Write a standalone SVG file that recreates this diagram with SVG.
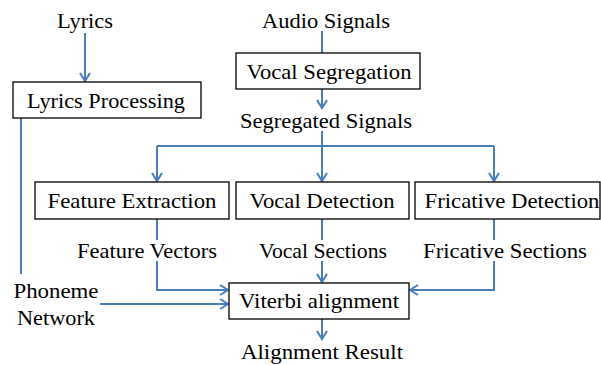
<svg xmlns="http://www.w3.org/2000/svg" width="601" height="365" viewBox="0 0 601 365">
  <defs>
    <marker id="arrow" viewBox="0 0 12 12" refX="10" refY="6" markerWidth="12" markerHeight="12" markerUnits="userSpaceOnUse" orient="auto">
      <polyline points="2,1 10,6 2,11" fill="none" stroke="#4a7ebb" stroke-width="2"/>
    </marker>
  </defs>
  <style>
    .lbl { font-family: 'Liberation Serif', Tinos, 'Times New Roman', 'DejaVu Serif', 'Noto Serif', serif; font-size: 22px; fill: #000; text-anchor: middle; }
    .box { fill: #fff; stroke: #000; stroke-width: 1.3; }
    .wire { fill: none; stroke: #4a7ebb; stroke-width: 2; }
    .arr { marker-end: url(#arrow); }
  </style>
  <rect width="601" height="365" fill="#fff"/>

  <g id="connectors">
    <path class="wire arr" d="M85,33 V81"/>
    <path class="wire" d="M21,118 V274"/>
    <path class="wire" d="M322,31 V53"/>
    <path class="wire arr" d="M322,89 V108"/>
    <path class="wire" d="M157,146 H494"/>
    <path class="wire arr" d="M322,131 V181"/>
    <path class="wire arr" d="M157,146 V181"/>
    <path class="wire arr" d="M494,146 V181"/>
    <path class="wire" d="M157,219 V240"/>
    <path class="wire" d="M322,219 V240"/>
    <path class="wire" d="M494,219 V240"/>
    <path class="wire arr" d="M157,261 V290 H228"/>
    <path class="wire arr" d="M100,304 H228"/>
    <path class="wire arr" d="M322,261 V282"/>
    <path class="wire arr" d="M494,261 V290 H410"/>
    <path class="wire arr" d="M322,319 V339"/>
  </g>

  <g id="lyrics"><text class="lbl" x="85" y="28" textLength="56" lengthAdjust="spacingAndGlyphs">Lyrics</text></g>
  <g id="audio-signals"><text class="lbl" x="326" y="28" textLength="128" lengthAdjust="spacingAndGlyphs">Audio Signals</text></g>

  <g id="lyrics-processing">
    <rect class="box" x="13" y="82" width="188" height="36"/>
    <text class="lbl" x="106" y="108" textLength="158" lengthAdjust="spacingAndGlyphs">Lyrics Processing</text>
  </g>
  <g id="vocal-segregation">
    <rect class="box" x="236" y="53" width="184" height="36"/>
    <text class="lbl" x="329" y="79" textLength="165" lengthAdjust="spacingAndGlyphs">Vocal Segregation</text>
  </g>
  <g id="segregated-signals"><text class="lbl" x="326" y="128" textLength="172" lengthAdjust="spacingAndGlyphs">Segregated Signals</text></g>

  <g id="feature-extraction">
    <rect class="box" x="35" y="182" width="194" height="37"/>
    <text class="lbl" x="132" y="208" textLength="169" lengthAdjust="spacingAndGlyphs">Feature Extraction</text>
  </g>
  <g id="vocal-detection">
    <rect class="box" x="236" y="182" width="173" height="37"/>
    <text class="lbl" x="322" y="208" textLength="145" lengthAdjust="spacingAndGlyphs">Vocal Detection</text>
  </g>
  <g id="fricative-detection">
    <rect class="box" x="415" y="182" width="185" height="37"/>
    <text class="lbl" x="512" y="208" textLength="175" lengthAdjust="spacingAndGlyphs">Fricative Detection</text>
  </g>

  <g id="feature-vectors"><text class="lbl" x="147" y="258" textLength="140" lengthAdjust="spacingAndGlyphs">Feature Vectors</text></g>
  <g id="vocal-sections"><text class="lbl" x="323" y="258" textLength="128" lengthAdjust="spacingAndGlyphs">Vocal Sections</text></g>
  <g id="fricative-sections"><text class="lbl" x="505" y="258" textLength="164" lengthAdjust="spacingAndGlyphs">Fricative Sections</text></g>

  <g id="phoneme-network">
    <text class="lbl" x="56" y="298" textLength="85" lengthAdjust="spacingAndGlyphs">Phoneme</text>
    <text class="lbl" x="56" y="325" textLength="78" lengthAdjust="spacingAndGlyphs">Network</text>
  </g>

  <g id="viterbi-alignment">
    <rect class="box" x="229" y="283" width="180" height="36"/>
    <text class="lbl" x="319" y="308" textLength="160" lengthAdjust="spacingAndGlyphs">Viterbi alignment</text>
  </g>
  <g id="alignment-result"><text class="lbl" x="322" y="359" textLength="162" lengthAdjust="spacingAndGlyphs">Alignment Result</text></g>
</svg>
